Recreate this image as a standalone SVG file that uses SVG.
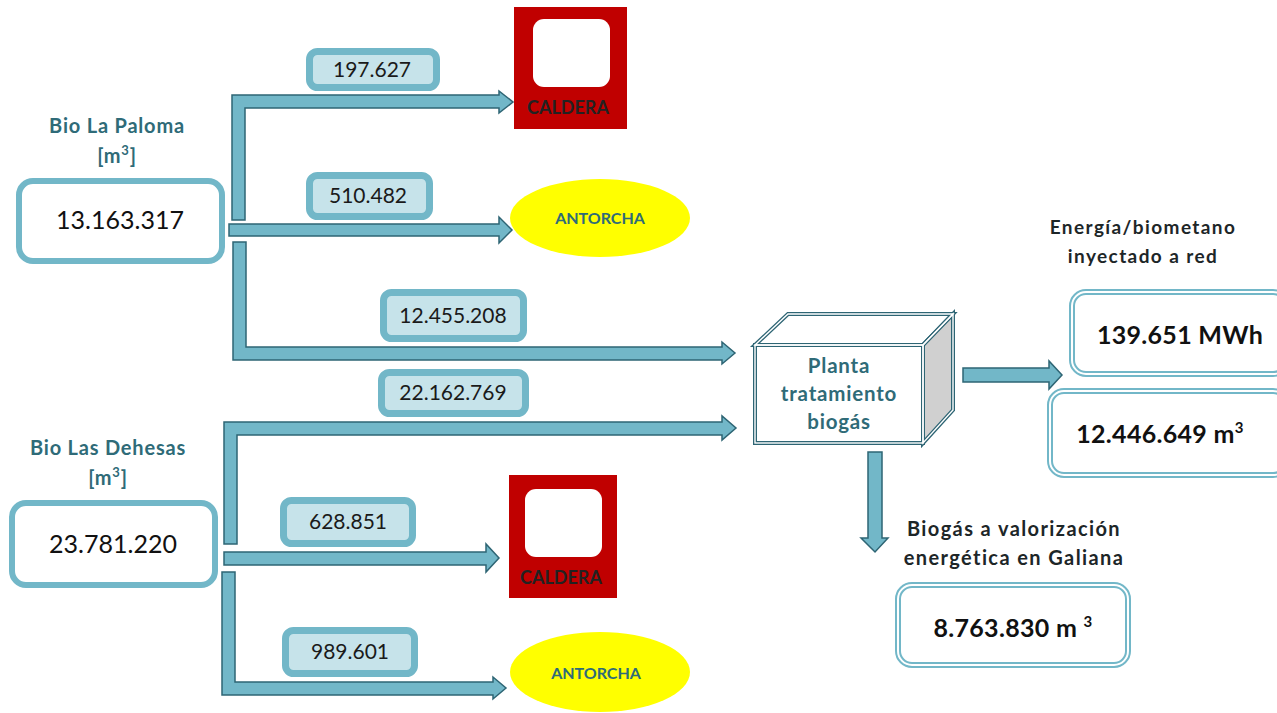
<svg xmlns="http://www.w3.org/2000/svg" width="1277" height="713" viewBox="0 0 1277 713">
<style>
.arrow{fill:#72b7c8;stroke:#2e6574;stroke-width:1.5;stroke-linejoin:miter}
.src{fill:#fff;stroke:#72b7c8;stroke-width:6}
.lbl{fill:#c6e3ea;stroke:#72b7c8;stroke-width:7}
.dbl-o{fill:#fff;stroke:#72b7c8;stroke-width:6}
.dbl-i{fill:none;stroke:#fff;stroke-width:2}
.cube-o{stroke:#2e6574;stroke-width:4;stroke-linejoin:miter}
.cube-i{fill:none;stroke:#fff;stroke-width:1.4;stroke-linejoin:miter}
text{font-family:Lato,"Open Sans","Liberation Sans",sans-serif;text-anchor:middle}
.num{font-size:25px;fill:#111}
.val{font-size:21px;fill:#1a1a1a}
.title{font-size:20px;font-weight:bold;fill:#2f6b78;letter-spacing:0.8px}
.black{font-size:19px;font-weight:bold;fill:#1d2628;letter-spacing:1.4px}
.black2{font-size:20px;font-weight:bold;fill:#1d2628;letter-spacing:1.4px}
.big{font-size:25px;font-weight:bold;fill:#111;letter-spacing:0.3px}
.cal{font-size:18px;font-weight:bold;fill:#222}
.ant{font-size:16px;font-weight:bold;fill:#2f6b78}
.plant{font-size:20.5px;font-weight:bold;fill:#2f6b78;letter-spacing:0.8px}
</style>
<g id="connectors">
<polygon class="arrow" points="232,220 232,95 499,95 499,91 513,102 499,113 499,108 245,108 245,220"/>
<polygon class="arrow" points="229,224 499,224 499,217 512,230 499,243 499,236 229,236"/>
<polygon class="arrow" points="233,242 246,242 246,347 722,347 722,342 735,353 722,364 722,360 233,360"/>
<polygon class="arrow" points="224,544 224,422 722,422 722,416 736,428 722,440 722,435 237,435 237,544"/>
<polygon class="arrow" points="224,552 486,552 486,544 499,558 486,572 486,565 224,565"/>
<polygon class="arrow" points="222,572 235,572 235,682 493,682 493,677 506,688 493,699 493,695 222,695"/>
<polygon class="arrow" points="963,368 1049,368 1049,361 1062,375 1049,389 1049,382 963,382"/>
<polygon class="arrow" points="868,452 882,452 882,538 888,538 875,552 861,538 868,538"/>
</g>
<g id="lbl-197627"><rect class="lbl" x="309.5" y="51.5" width="127" height="36" rx="8"/><text class="val" x="372" y="77">197.627</text></g>
<g id="lbl-510482"><rect class="lbl" x="309.5" y="175.5" width="120" height="41" rx="8"/><text class="val" x="368" y="203">510.482</text></g>
<g id="lbl-12455208"><rect class="lbl" x="383.5" y="292.5" width="140" height="46" rx="8"/><text class="val" x="453" y="323">12.455.208</text></g>
<g id="lbl-22162769"><rect class="lbl" x="381.5" y="372.5" width="144" height="41" rx="8"/><text class="val" x="453" y="400">22.162.769</text></g>
<g id="lbl-628851"><rect class="lbl" x="283.5" y="500.5" width="129" height="43" rx="8"/><text class="val" x="348" y="529">628.851</text></g>
<g id="lbl-989601"><rect class="lbl" x="285.5" y="630.5" width="129" height="43" rx="8"/><text class="val" x="350" y="659">989.601</text></g>
<g id="bio-la-paloma">
<text class="title" x="117" y="133">Bio La Paloma</text>
<text class="title" x="117" y="163">[m<tspan font-size="13" dy="-8">3</tspan><tspan dy="8">]</tspan></text>
<rect class="src" x="19" y="181" width="203" height="80" rx="14"/>
<text class="num" x="120" y="229">13.163.317</text>
</g>
<g id="bio-las-dehesas">
<text class="title" x="108" y="455">Bio Las Dehesas</text>
<text class="title" x="108" y="485">[m<tspan font-size="13" dy="-8">3</tspan><tspan dy="8">]</tspan></text>
<rect class="src" x="12" y="503" width="203" height="82" rx="14"/>
<text class="num" x="113" y="553">23.781.220</text>
</g>
<g id="caldera-1">
<rect x="514" y="7" width="113" height="122" fill="#c00000"/>
<rect x="533" y="19" width="77" height="68" rx="11" fill="#fff"/>
<text class="cal" x="568" y="114">CALDERA</text>
</g>
<g id="antorcha-1">
<ellipse cx="600" cy="218" rx="90" ry="39" fill="#ffff00"/>
<text class="ant" x="600" y="224">ANTORCHA</text>
</g>
<g id="caldera-2">
<rect x="509" y="475" width="108" height="123" fill="#c00000"/>
<rect x="525" y="489" width="77" height="68" rx="11" fill="#fff"/>
<text class="cal" x="561" y="584">CALDERA</text>
</g>
<g id="antorcha-2">
<ellipse cx="600" cy="672" rx="90" ry="40" fill="#ffff00"/>
<text class="ant" x="596" y="679">ANTORCHA</text>
</g>
<g id="planta">
<polygon class="cube-o" fill="#fff" points="755,345 788,314 953,314 923,345"/>
<polygon class="cube-o" fill="#d0d0d0" points="923,345 953,314 953,410 923,443"/>
<rect class="cube-o" fill="#fff" x="755" y="345" width="168" height="98"/>
<polygon class="cube-i" points="755,345 788,314 953,314 923,345"/>
<polygon class="cube-i" points="923,345 953,314 953,410 923,443"/>
<rect class="cube-i" x="755" y="345" width="168" height="98"/>
<text class="plant" x="839" y="373">Planta</text>
<text class="plant" x="839" y="401">tratamiento</text>
<text class="plant" x="839" y="429">biogás</text>
</g>
<g id="energia">
<text class="black" x="1143" y="234">Energía/biometano</text>
<text class="black" x="1143" y="263">inyectado a red</text>
<rect class="dbl-o" x="1072" y="292" width="215" height="82" rx="14"/>
<rect class="dbl-i" x="1072" y="292" width="215" height="82" rx="14"/>
<text class="big" x="1180" y="344">139.651 MWh</text>
<rect class="dbl-o" x="1050" y="391" width="237" height="84" rx="14"/>
<rect class="dbl-i" x="1050" y="391" width="237" height="84" rx="14"/>
<text class="big" x="1160" y="443">12.446.649 m<tspan font-size="15" dy="-10">3</tspan></text>
</g>
<g id="galiana">
<text class="black2" x="1014" y="536">Biogás a valorización</text>
<text class="black2" x="1014" y="565">energética en Galiana</text>
<rect class="dbl-o" x="898" y="585" width="230" height="80" rx="14"/>
<rect class="dbl-i" x="898" y="585" width="230" height="80" rx="14"/>
<text class="big" x="1013" y="637">8.763.830 m <tspan font-size="15" dy="-10">3</tspan></text>
</g>
</svg>
